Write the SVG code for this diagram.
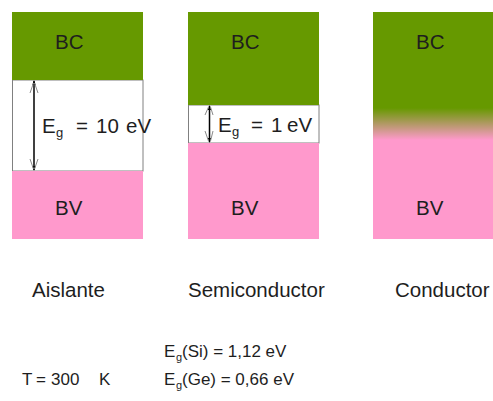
<svg xmlns="http://www.w3.org/2000/svg" width="493" height="401" viewBox="0 0 493 401">
  <defs>
    <style>
      .bc { fill: #669900; }
      .bv { fill: #ff99cc; }
      .gap { fill: #ffffff; stroke: #808080; stroke-width: 1; }
      .lbl { font-family: "Liberation Sans", Arial, sans-serif; font-size: 20.5px; fill: #1e1e1e; }
      .sm { font-family: "Liberation Sans", Arial, sans-serif; font-size: 17px; fill: #1e1e1e; }
      .sub { font-size: 13px; }
      .sub2 { font-size: 11px; }
      .line { stroke: #000000; stroke-width: 1.5; fill: none; }
      .chev { stroke: #8a8a8a; stroke-width: 1; fill: none; }
      .tip { fill: #000000; }
    </style>
    <linearGradient id="grad" gradientUnits="userSpaceOnUse" x1="0" y1="108" x2="0" y2="140">
      <stop offset="0" stop-color="#669900"/>
      <stop offset="1" stop-color="#ff99cc"/>
    </linearGradient>
  </defs>
  <rect x="0" y="0" width="493" height="401" fill="#ffffff"/>

  <g id="aislante">
    <rect class="gap" x="12.5" y="80" width="130.5" height="91"/>
    <rect class="bc" x="12" y="12" width="131" height="68"/>
    <rect class="bv" x="12" y="171" width="131" height="68"/>
    <text class="lbl" x="55" y="49">BC</text>
    <text class="lbl" x="55" y="215">BV</text>
    <text class="lbl" x="42" y="133">E<tspan class="sub" x="56" dy="4">g</tspan><tspan x="76" dy="-4">=</tspan><tspan x="96">10</tspan><tspan x="126">eV</tspan></text>
    <text class="lbl" x="32" y="297">Aislante</text>
  </g>

  <g id="semiconductor">
    <rect class="gap" x="188.5" y="105" width="130.5" height="38"/>
    <rect class="bc" x="188" y="12" width="131" height="93"/>
    <rect class="bv" x="188" y="143" width="131" height="96"/>
    <text class="lbl" x="231" y="49">BC</text>
    <text class="lbl" x="231" y="215">BV</text>
    <text class="lbl" x="218" y="132">E<tspan class="sub" x="232" dy="4">g</tspan><tspan x="251" dy="-4">=</tspan><tspan x="271">1</tspan><tspan x="287">eV</tspan></text>
    <text class="lbl" x="188" y="297">Semiconductor</text>
  </g>

  <g id="conductor">
    <rect x="373" y="12" width="131" height="227" fill="url(#grad)"/>
    <text class="lbl" x="416" y="49">BC</text>
    <text class="lbl" x="416" y="215">BV</text>
    <text class="lbl" x="395" y="297">Conductor</text>
  </g>

  <g id="conditions">
    <text class="sm" x="164" y="357">E<tspan class="sub2" x="176" dy="4">g</tspan><tspan x="182" dy="-4">(Si) = 1,12 eV</tspan></text>
    <text class="sm" x="164" y="385">E<tspan class="sub2" x="176" dy="4">g</tspan><tspan x="182" dy="-4">(Ge) = 0,66 eV</tspan></text>
    <text class="sm" x="22" y="385">T<tspan x="36">=</tspan><tspan x="51">300</tspan><tspan x="99">K</tspan></text>
  </g>

  <g id="connectors">
    <line class="line" x1="34" y1="81" x2="34" y2="170"/>
    <path class="tip" d="M34,80 L32.3,85 L35.7,85 Z"/>
    <path class="tip" d="M34,171 L32.3,166 L35.7,166 Z"/>
    <path class="chev" d="M30,93 L33.5,83 M34.5,83 L38,93"/>
    <path class="chev" d="M30,159 L33.5,169 M34.5,169 L38,159"/>

    <line class="line" x1="209.5" y1="106" x2="209.5" y2="142"/>
    <path class="tip" d="M209.5,105 L207.8,110 L211.2,110 Z"/>
    <path class="tip" d="M209.5,143 L207.8,138 L211.2,138 Z"/>
    <path class="chev" d="M205,115 L208.5,107 M210.5,107 L213,115"/>
    <path class="chev" d="M205,131 L208.5,141 M210.5,141 L213,131"/>
  </g>
</svg>
